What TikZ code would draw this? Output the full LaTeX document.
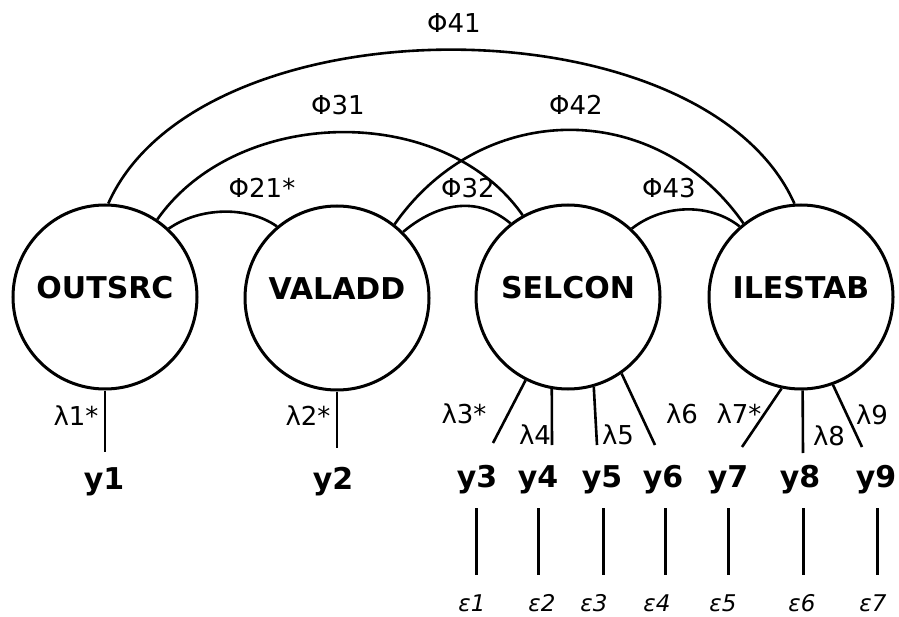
\documentclass[tikz,border=0pt]{standalone}
\usepackage{fontspec}
\setmainfont{DejaVu Sans}
\begin{document}
\begin{tikzpicture}[x=1pt,y=1pt,
  lat/.style={circle,draw,line width=3pt,minimum size=184pt,inner sep=0pt},
  latlab/.style={font=\fontsize{30}{30}\selectfont\bfseries},
  cov/.style={line width=2.6pt},
  load/.style={line width=2.6pt},
  err/.style={line width=3pt},
  phil/.style={font=\fontsize{26}{26}\selectfont,inner sep=0pt},
  laml/.style={font=\fontsize{26}{26}\selectfont,inner sep=0pt},
  obs/.style={font=\fontsize{30}{30}\selectfont\bfseries,inner sep=0pt,anchor=base},
  epsl/.style={font=\fontsize{23}{23}\selectfont\itshape,inner sep=0pt}]
\fill[white] (0,0) rectangle (899,-617);
\useasboundingbox (0,0) rectangle (899,-617);

% latent variables
\node[lat,label={[latlab,yshift=9pt]center:OUTSRC}] (outsrc) at (105,-297) {};
\node[lat,label={[latlab,yshift=9pt]center:VALADD}] (valadd) at (337,-298) {};
\node[lat,label={[latlab,yshift=9pt]center:SELCON}] (selcon) at (568,-297) {};
\node[lat,label={[latlab,yshift=9pt]center:ILESTAB}] (ilestab) at (801,-297) {};

% covariances
\draw[cov] (outsrc.88) to[out=66,in=114,looseness=0.84] (ilestab.94);
\draw[cov] (outsrc.56) to[out=55,in=125,looseness=0.97] (selcon.119);
\draw[cov] (valadd.52) to[out=55,in=125,looseness=1.12] (ilestab.128);
\draw[cov] (outsrc.47) to[out=35,in=145,looseness=0.87] (valadd.130);
\draw[cov] (valadd.45) to[out=40,in=140,looseness=1.05] (selcon.128);
\draw[cov] (selcon.47) to[out=38,in=142,looseness=0.93] (ilestab.131);

\node[phil] (p41) at (454,-23) {Φ41};
\node[phil] (p31) at (338,-105) {Φ31};
\node[phil] (p42) at (576,-105) {Φ42};
\node[phil] (p21) at (262,-188) {Φ21*};
\node[phil] (p32) at (468,-188) {Φ32};
\node[phil] (p43) at (669,-188) {Φ43};

% loading end points
\coordinate (e1) at (105,-452);
\coordinate (e2) at (337,-448);
\coordinate (e3) at (493,-443);
\coordinate (e4) at (552,-445);
\coordinate (e5) at (597,-445);
\coordinate (e6) at (655,-445);
\coordinate (e7) at (742,-447);
\coordinate (e8) at (803,-453);
\coordinate (e9) at (862,-447);

\draw[load] (outsrc.-90) -- (e1);
\draw[load] (valadd.-90) -- (e2);
\draw[load] (selcon.-117) -- (e3);
\draw[load] (selcon.-100) -- (e4);
\draw[load] (selcon.-74) -- (e5);
\draw[load] (selcon.-55) -- (e6);
\draw[load] (ilestab.-102) -- (e7);
\draw[load] (ilestab.-89) -- (e8);
\draw[load] (ilestab.-70) -- (e9);

\node[laml] (l1) at (76,-416) {λ1*};
\node[laml] (l2) at (308,-416) {λ2*};
\node[laml] (l3) at (464,-414) {λ3*};
\node[laml] (l4) at (535,-435) {λ4};
\node[laml] (l5) at (618,-435) {λ5};
\node[laml] (l6) at (682,-414) {λ6};
\node[laml] (l7) at (739,-414) {λ7*};
\node[laml] (l8) at (829,-436) {λ8};
\node[laml] (l9) at (872,-415) {λ9};

% observed variables
\node[obs] (y1) at (104,-489) {y1};
\node[obs] (y2) at (333,-489) {y2};
\node[obs] (y3) at (477,-487) {y3};
\node[obs] (y4) at (538,-487) {y4};
\node[obs] (y5) at (602,-487) {y5};
\node[obs] (y6) at (663,-487) {y6};
\node[obs] (y7) at (728,-487) {y7};
\node[obs] (y8) at (800,-487) {y8};
\node[obs] (y9) at (876,-487) {y9};

% errors
\node[epsl] (eps1) at (472,-603) {ε1};
\node[epsl] (eps2) at (542,-603) {ε2};
\node[epsl] (eps3) at (594,-603) {ε3};
\node[epsl] (eps4) at (657,-603) {ε4};
\node[epsl] (eps5) at (723,-603) {ε5};
\node[epsl] (eps6) at (802,-603) {ε6};
\node[epsl] (eps7) at (873,-603) {ε7};

\foreach \x/\n in {476/3,538/4,603/5,665/6,728/7,803/8,877/9}{
  \coordinate (ta\n) at (\x,-508);
  \coordinate (tb\n) at (\x,-575);
  \draw[err] (ta\n) -- (tb\n);
}
\end{tikzpicture}
\end{document}
